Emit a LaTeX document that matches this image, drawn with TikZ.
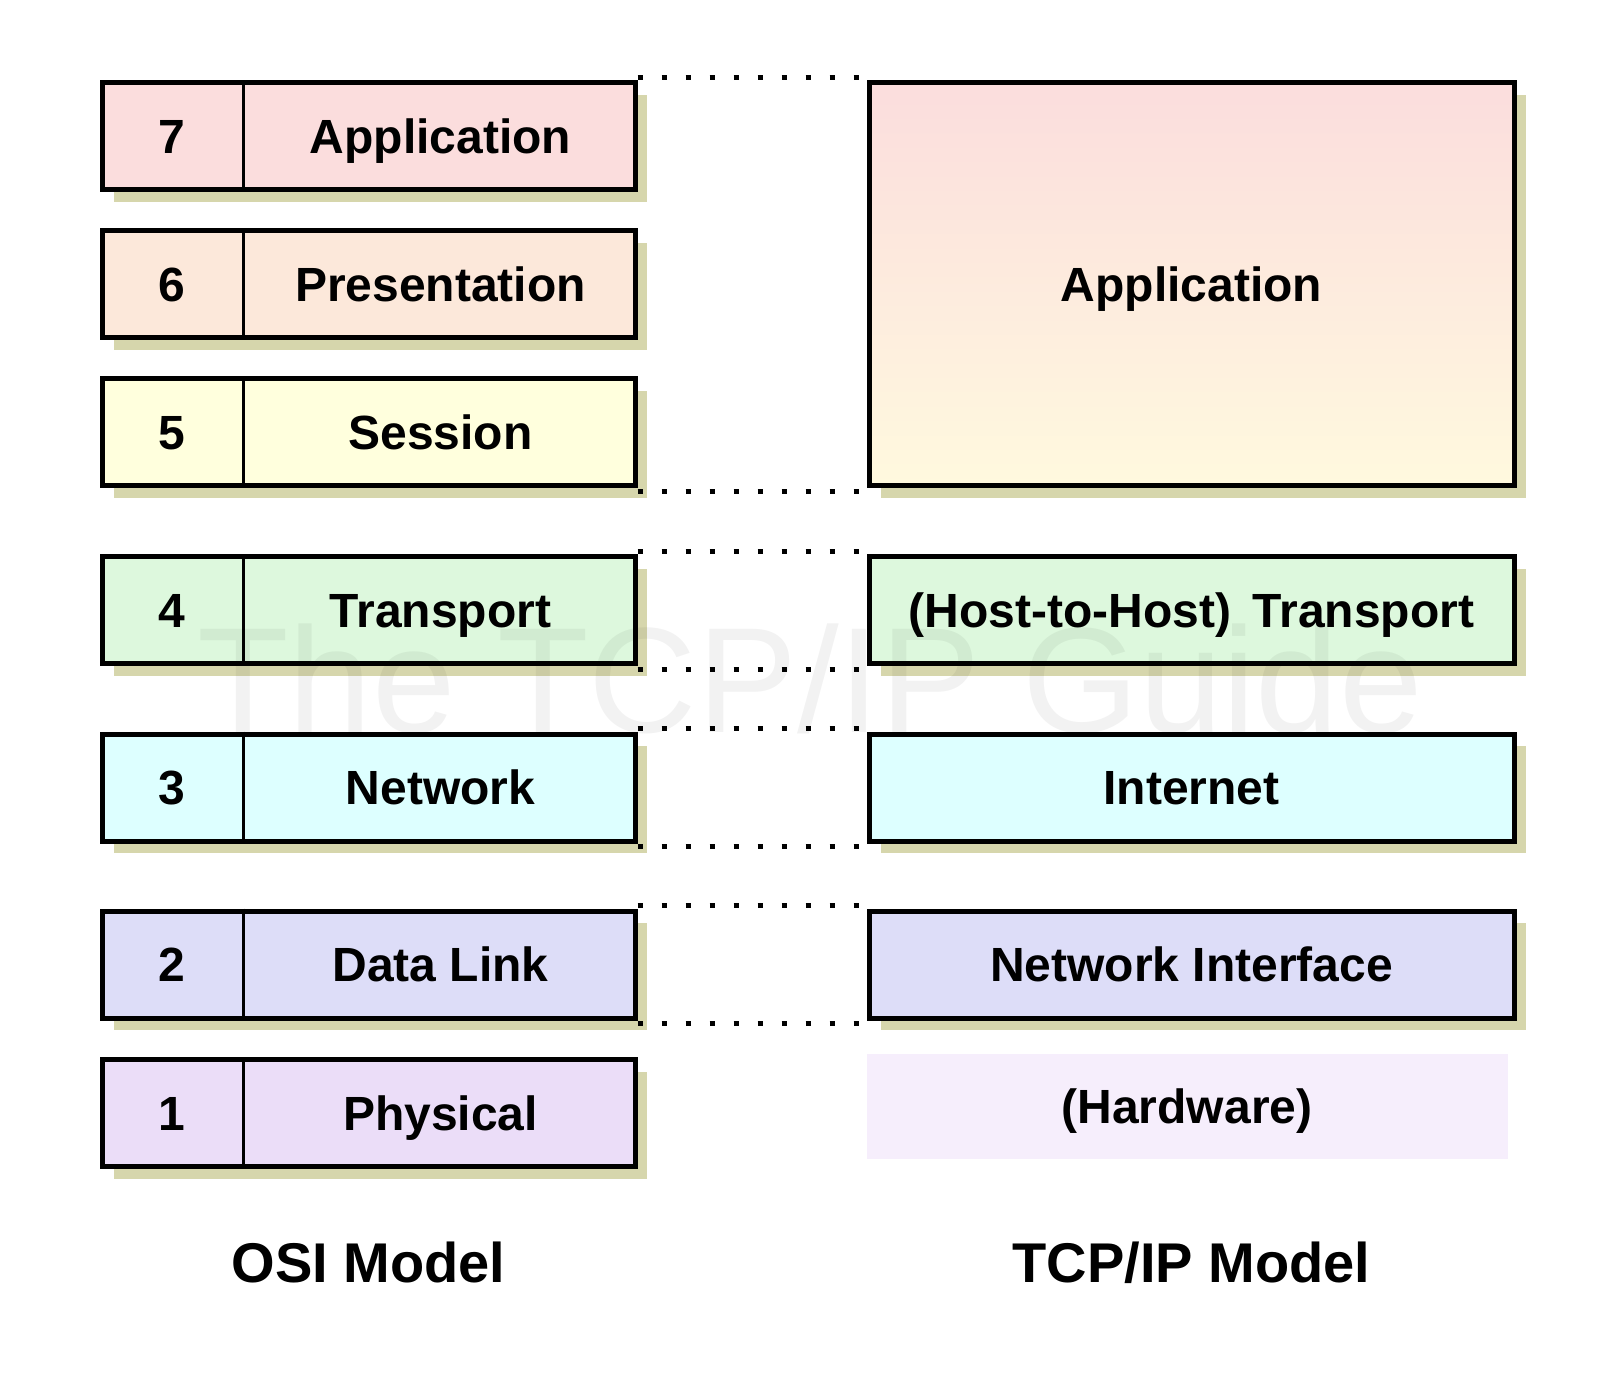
\documentclass[tikz,border=0pt]{standalone}
\usepackage{fontspec}
\setmainfont{Liberation Sans}
\usetikzlibrary{shadows,calc}
\definecolor{c7}{RGB}{251,221,221}
\definecolor{c6}{RGB}{252,232,218}
\definecolor{c5}{RGB}{255,255,221}
\definecolor{c4}{RGB}{221,248,221}
\definecolor{c3}{RGB}{221,255,255}
\definecolor{c2}{RGB}{221,221,248}
\definecolor{c1}{RGB}{235,221,248}
\definecolor{appbot}{RGB}{255,249,222}
\definecolor{hw}{RGB}{246,238,252}
\definecolor{shadowc}{RGB}{214,214,172}
\begin{document}
\begin{tikzpicture}[x=0.5pt,y=-0.5pt,
  txt/.style={font=\bfseries\fontsize{24}{28}\selectfont, inner sep=0pt, text height=17.2pt, text depth=0pt},
  titletxt/.style={font=\bfseries\fontsize{28}{32}\selectfont, inner sep=0pt, text height=20pt, text depth=0pt},
  shad/.style={drop shadow={shadow xshift=6pt, shadow yshift=-6pt, fill=shadowc, opacity=1}},
  osi/.style={draw=black, line width=2.5pt, minimum width=266.5pt, minimum height=53.5pt, inner sep=0pt, shad},
  tcp/.style={draw=black, line width=2.5pt, minimum width=322.5pt, minimum height=53.5pt, inner sep=0pt, shad, txt},
  divider/.style={line width=1.2pt, draw=black},
  dots/.style={line width=2.5pt, dash pattern=on 2.5pt off 9.5pt, draw=black}
]
\useasboundingbox[fill=white] (0,0) rectangle (1612,1376);

\foreach \n/\y/\name in {7/136/Application, 6/284/Presentation, 5/432/Session, 4/610/Transport, 3/787.5/Network, 2/964.5/Data Link, 1/1113/Physical} {
  \node[osi, fill=c\n] (o\n) at (368.5,\y) {};
  \draw[divider] ([xshift=72pt]o\n.north west) -- ([xshift=72pt]o\n.south west);
  \node[txt] (n\n) at ($(o\n.west)+(72,0)$) {\n};
  \node[txt] (l\n) at ($(o\n.west)+(341,0)$) {\name};
}

\node[tcp, minimum height=201.5pt, top color=c7, bottom color=appbot] (tApp) at (1191.5,284) {Application};
\node[tcp, fill=c4] (tTr) at (1191.5,610) {(Host-to-Host)\ \,Transport};
\node[tcp, fill=c3] (tNet) at (1191.5,787.5) {Internet};
\node[tcp, fill=c2] (tNI) at (1191.5,964.5) {Network Interface};
\node[txt, fill=hw, minimum width=320.5pt, minimum height=52.5pt] (tHw) at (1187,1106.5) {(Hardware)};

\draw[dots] ([yshift=1.5pt]o7.north east) -- ([yshift=1.5pt]tApp.north west);
\draw[dots] ([yshift=-1.5pt]o5.south east) -- ([yshift=-1.5pt]tApp.south west);
\draw[dots] ([yshift=1.5pt]o4.north east) -- ([yshift=1.5pt]tTr.north west);
\draw[dots] ([yshift=-1.5pt]o4.south east) -- ([yshift=-1.5pt]tTr.south west);
\draw[dots] ([yshift=1.5pt]o3.north east) -- ([yshift=1.5pt]tNet.north west);
\draw[dots] ([yshift=-1.5pt]o3.south east) -- ([yshift=-1.5pt]tNet.south west);
\draw[dots] ([yshift=1.5pt]o2.north east) -- ([yshift=1.5pt]tNI.north west);
\draw[dots] ([yshift=-1.5pt]o2.south east) -- ([yshift=-1.5pt]tNI.south west);

\node[titletxt] (osiL) at (368.5,1262) {OSI Model};
\node[titletxt] (tcpL) at (1191.5,1262) {TCP/IP Model};

\node[font=\fontsize{75}{80}\selectfont, text=black, opacity=0.05, anchor=base, inner sep=0pt] (wm) at (810,732) {The TCP/IP Guide};
\end{tikzpicture}
\end{document}
